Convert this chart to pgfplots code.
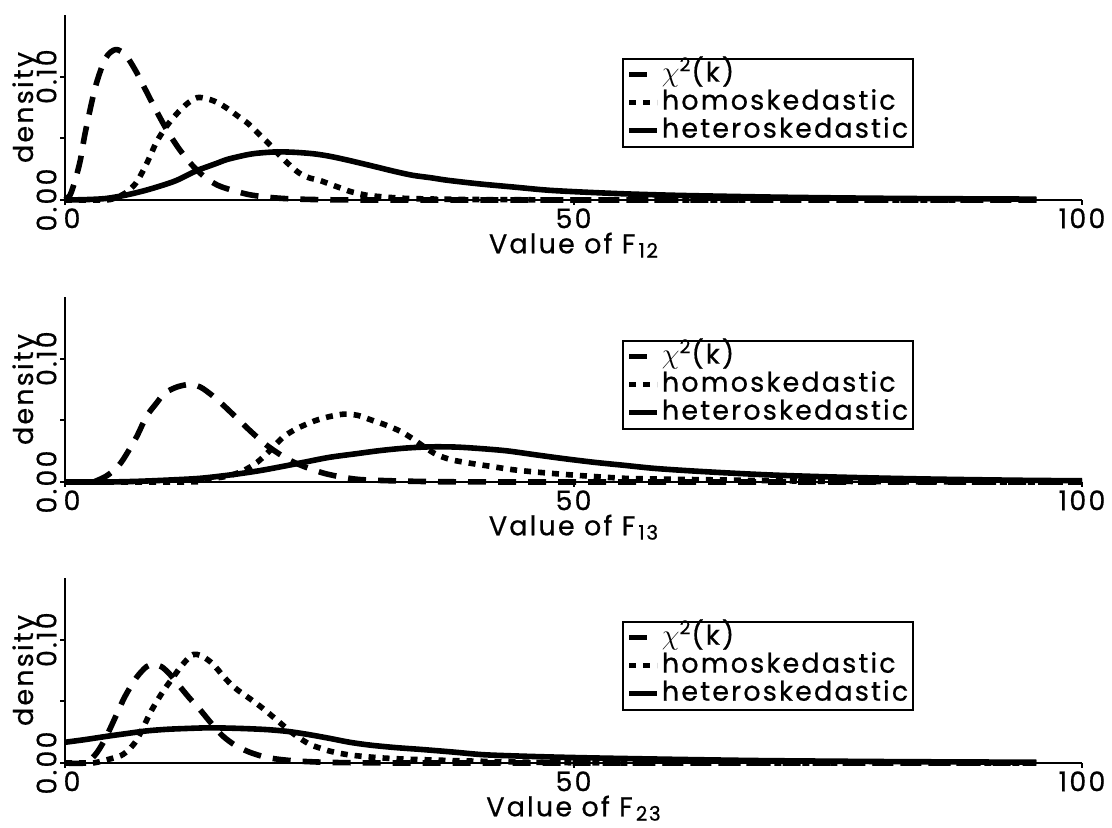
\documentclass[border=0pt]{standalone}
\usepackage{fontspec}
\setmainfont{Poppins}[LetterSpace=8, FakeBold=0.6]
\usepackage{pgfplots}
\pgfplotsset{compat=1.18}

% density curves for the three statistics
\pgfplotstableread{
x y
0 0
0.5 0.004
1 0.016
1.5 0.032
2 0.055
3 0.092
4 0.115
5 0.122
6 0.117
7 0.104
8 0.088
9 0.072
10 0.057
11 0.044
12 0.033
13 0.024
14 0.017
15 0.012
16 0.009
18 0.0045
20 0.0022
22 0.001
25 0.0003
30 0
50 0
70 0
95.5 0
}\chiA
\pgfplotstableread{
x y
0 0
4 0
5 0.002
6 0.006
7 0.014
8 0.029
9 0.047
10 0.060
11 0.070
12 0.078
13 0.083
14 0.082
15 0.079
16 0.074
17 0.068
18 0.062
19 0.054
20 0.046
21 0.037
22 0.029
23 0.022
24 0.018
25 0.016
26 0.013
27 0.010
28 0.007
29 0.005
30 0.0035
33 0.0015
36 0.0008
40 0.0004
45 0.0002
50 0
70 0
95.5 0
}\homA
\pgfplotstableread{
x y
0 0
2 0.0003
4 0.0012
6 0.004
8 0.008
10 0.013
11 0.016
12 0.020
13 0.024
14 0.027
15 0.030
16 0.033
17.8 0.0365
19 0.038
20.8 0.039
22.5 0.0387
24.4 0.0375
26 0.0355
27.7 0.0325
29.5 0.029
31 0.026
32.5 0.023
34.2 0.020
36 0.018
37.6 0.016
40.8 0.013
44.1 0.0105
47.4 0.008
50.7 0.0065
55 0.005
60 0.0038
65 0.003
70 0.0023
75 0.0018
80 0.0014
85 0.0011
90 0.0009
95.5 0.0007
}\hetA

\pgfplotstableread{
x y
0 0
2.5 0
3.1 0.001
4.1 0.005
5 0.011
5.7 0.018
7 0.036
8 0.053
9 0.064
9.8 0.072
11 0.077
12.2 0.079
13.3 0.077
14.5 0.070
15.6 0.062
17 0.051
18.4 0.040
19.8 0.030
21.2 0.022
22.5 0.016
24 0.011
25.5 0.007
27.2 0.004
29 0.002
32 0.001
36 0.0003
40 0.0001
45 0
70 0
100 0
}\chiB
\pgfplotstableread{
x y
0 0
12 0
13.3 0.001
14.7 0.003
16.1 0.005
17.5 0.009
18.9 0.016
20.2 0.026
21.4 0.036
22.5 0.042
23.5 0.046
24.7 0.050
26 0.053
27.4 0.055
28.8 0.054
30.2 0.050
31.6 0.046
33 0.041
34.2 0.035
35.4 0.028
36.6 0.022
38 0.018
40 0.015
42 0.0125
44 0.010
46.4 0.008
50 0.0056
55 0.003
60 0.0022
66 0.0015
72 0.0008
80 0.0003
90 0
100 0
}\homB
\pgfplotstableread{
x y
0 0
4 0
7 0.0005
10 0.0015
13.3 0.003
16.5 0.006
19 0.009
21 0.012
23.5 0.016
26 0.020
28.7 0.023
31 0.0255
33.5 0.0275
36 0.0285
38.5 0.0283
41 0.027
43.5 0.0252
46.3 0.022
49 0.019
52 0.016
55 0.0135
58 0.011
62 0.0088
66 0.007
70 0.0055
75 0.0042
80 0.0032
85 0.0024
90 0.0018
95 0.0013
100 0.001
}\hetB

\pgfplotstableread{
x y
0 0
2 0
2.9 0.006
3.5 0.013
4.1 0.022
5 0.038
5.9 0.054
7 0.069
8 0.078
8.7 0.080
9.5 0.078
10.3 0.072
11.2 0.063
12.2 0.053
13.3 0.043
14.4 0.032
15.5 0.022
16.8 0.014
18.2 0.0086
19.6 0.005
21 0.003
23 0.0015
26 0.0005
30 0.0001
35 0
60 0
95.5 0
}\chiC
\pgfplotstableread{
x y
0 0
2.5 0
3.1 0.0005
4.3 0.003
5.5 0.006
6.3 0.011
7.0 0.018
7.7 0.029
8.4 0.041
9.1 0.051
9.8 0.060
10.5 0.068
11.2 0.076
11.9 0.083
12.6 0.088
13.4 0.087
14.3 0.082
15.0 0.076
15.6 0.070
16.3 0.064
17.0 0.059
18.2 0.052
19.5 0.044
20.8 0.035
22.1 0.026
23.1 0.020
24.1 0.015
25.1 0.012
26.1 0.0095
28 0.0065
31 0.0042
34 0.003
38 0.002
42 0.0012
46 0.0006
50 0.0002
55 0
75 0
95.5 0
}\homC
\pgfplotstableread{
x y
0 0.0168
2 0.019
4 0.0215
6 0.0238
8 0.026
10 0.0273
12 0.028
14 0.0285
16 0.0283
18 0.0278
20 0.027
22 0.0255
24 0.023
26 0.020
28 0.0168
30 0.0145
32.5 0.0125
35 0.011
38 0.009
41 0.0068
44 0.0058
47.7 0.0049
52 0.0041
57.5 0.0033
62 0.0027
68 0.002
75 0.0015
82 0.0011
90 0.0008
95.5 0.0006
}\hetC

\newcommand{\figfont}{\fontsize{13.5}{15}\selectfont}
% lowered index used in the axis titles
\newcommand{\idx}[1]{\kern1.5pt\raisebox{-2.2pt}{\fontsize{10}{10}\selectfont #1}}

\pgfplotsset{
  panel/.style={
    scale only axis, width=508.5pt, height=92.5pt,
    xmin=0, xmax=100, ymin=0, ymax=0.15,
    axis x line*=bottom, axis y line*=left,
    axis line style={line width=1.4pt, -},
    clip=false,
    xtick={0,50,100}, xticklabels={\hspace*{7pt}0,50,100},
    ytick={0,0.05,0.1}, yticklabels={0.00,{},0.10},
    tick align=outside, major tick length=2.5pt,
    every tick/.style={black, line width=1pt},
    tick label style={font=\figfont},
    xticklabel style={anchor=north, inner sep=1.5pt},
    yticklabel style={rotate=90, anchor=south, inner sep=1.5pt},
    label style={font=\figfont},
    ylabel={density},
    ylabel style={at={(axis description cs:-0.0315,0.5)}, rotate=0, anchor=base},
    xlabel style={at={(axis description cs:0.5,-0.288)}, anchor=base},
    legend style={at={(axis cs:54.8,0.1154)}, anchor=north west,
      draw=black, line width=1pt, font=\figfont,
      inner xsep=1.5pt, inner ysep=1pt, row sep=0pt,
      nodes={inner xsep=1pt, inner ysep=0.5pt, text height=10pt, text depth=3pt}},
    legend cell align=left,
    legend image code/.code={\draw[##1] (0pt,0pt) -- (14pt,0pt);},
    every axis plot/.append style={no markers, line join=round},
  },
  chisq/.style={black, line width=2.8pt, line cap=butt, dash pattern=on 9pt off 6pt},
  homo/.style={black, line width=2.8pt, line cap=butt, dash pattern=on 3.5pt off 3.5pt},
  hetero/.style={black, line width=2.8pt},
}

\begin{document}
\begin{tikzpicture}
\useasboundingbox (0,0) rectangle (556pt,414pt);

\begin{axis}[panel, at={(32.5pt,314pt)}, anchor=south west,
  xlabel={Value of F\idx{12}}]
  \addplot[chisq, smooth] table {\chiA};
  \addplot[homo, smooth] table {\homA};
  \addplot[hetero, smooth] table {\hetA};
  \legend{$\chi$\textsuperscript{2}(k), homoskedastic, heteroskedastic}
\end{axis}

\begin{axis}[panel, at={(32.5pt,173pt)}, anchor=south west,
  xlabel={Value of F\idx{13}}]
  \addplot[chisq, smooth] table {\chiB};
  \addplot[homo, smooth] table {\homB};
  \addplot[hetero, smooth] table {\hetB};
  \legend{$\chi$\textsuperscript{2}(k), homoskedastic, heteroskedastic}
\end{axis}

\begin{axis}[panel, at={(32.5pt,32.5pt)}, anchor=south west,
  xlabel={Value of F\idx{23}}]
  \addplot[chisq, smooth] table {\chiC};
  \addplot[homo, smooth] table {\homC};
  \addplot[hetero, smooth] table {\hetC};
  \legend{$\chi$\textsuperscript{2}(k), homoskedastic, heteroskedastic}
\end{axis}
\end{tikzpicture}
\end{document}
